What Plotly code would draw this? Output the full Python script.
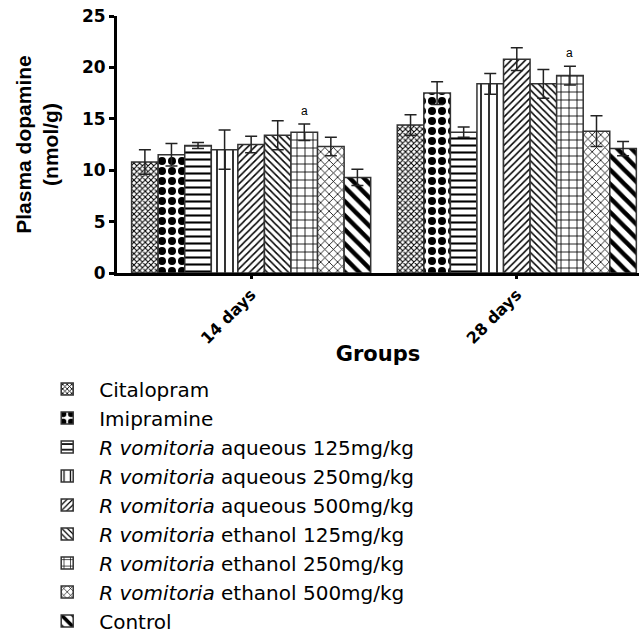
import plotly.graph_objects as go

categories = ["14 days", "28 days"]
series_names = [
    "Citalopram",
    "Imipramine",
    "<i>R vomitoria</i> aqueous 125mg/kg",
    "<i>R vomitoria</i> aqueous 250mg/kg",
    "<i>R vomitoria</i> aqueous 500mg/kg",
    "<i>R vomitoria</i> ethanol 125mg/kg",
    "<i>R vomitoria</i> ethanol 250mg/kg",
    "<i>R vomitoria</i> ethanol 500mg/kg",
    "Control",
]
means_14 = [10.8, 11.5, 12.4, 12.0, 12.5, 13.4, 13.7, 12.3, 9.3]
means_28 = [14.4, 17.5, 13.7, 18.4, 20.8, 18.4, 19.2, 13.8, 12.1]
err_14 = [1.2, 1.1, 0.3, 1.9, 0.8, 1.4, 0.8, 0.9, 0.8]
err_28 = [1.0, 1.1, 0.5, 1.0, 1.1, 1.4, 0.9, 1.5, 0.7]
sig_series = 6  # ethanol 250mg/kg marked "a"
sig_label = "a"

patterns = [
    dict(shape="x", size=4, solidity=0.45),
    dict(shape=".", size=10, solidity=0.5),
    dict(shape="-", size=7, solidity=0.3),
    dict(shape="|", size=8, solidity=0.2),
    dict(shape="/", size=5, solidity=0.3),
    dict(shape="\\", size=5, solidity=0.3),
    dict(shape="+", size=8, solidity=0.2),
    dict(shape="x", size=6, solidity=0.25),
    dict(shape="\\", size=10, solidity=0.45),
]

FONT = "Liberation Sans, Arial, sans-serif"
WIDE = "DejaVu Sans, Liberation Sans, sans-serif"
fig = go.Figure()
for i, name in enumerate(series_names):
    p = patterns[i]
    fig.add_trace(go.Bar(
        x=categories, y=[means_14[i], means_28[i]], name=name,
        legendgroup=str(i),
        marker=dict(color="white", line=dict(color="#333", width=1.5),
                    pattern=dict(shape=p["shape"], size=p["size"], solidity=p["solidity"],
                                 fgcolor="black", bgcolor="white", fillmode="replace")),
        error_y=dict(type="data", array=[err_14[i], err_28[i]], color="#222",
                     thickness=1.5, width=6),
    ))

n = len(series_names)
bargap = 0.1
bw = (1 - bargap) / n
for ci, (m, e) in enumerate([(means_14, err_14), (means_28, err_28)]):
    fig.add_annotation(x=ci + (sig_series - (n - 1) / 2) * bw, y=m[sig_series] + e[sig_series] + 1.3,
                       xref="x", yref="y", text=sig_label, showarrow=False,
                       font=dict(size=12, color="black", family=FONT))

fig.update_layout(
    width=639, height=637,
    margin=dict(l=117, r=0, t=16, b=364, autoexpand=False),
    paper_bgcolor="white", plot_bgcolor="white",
    barmode="group", bargap=bargap, bargroupgap=0,
    font=dict(family=FONT, color="black"),
    showlegend=True,
    legend=dict(x=-0.1567, y=-0.375, xanchor="left", yanchor="top",
                font=dict(size=20, family=WIDE),
                traceorder="normal", itemwidth=54),
    xaxis=dict(range=[-0.505, 1.46], showline=True, linecolor="black", linewidth=3,
               ticks="outside", ticklen=3, tickwidth=3, tickcolor="black",
               tickangle=-45, tickfont=dict(size=16, family=WIDE, weight="bold"),
               title=dict(text="<b>Groups</b>", font=dict(size=21, family=WIDE), standoff=0),
               showgrid=False, zeroline=False, automargin=False),
    yaxis=dict(range=[0, 25], tickvals=[0, 5, 10, 15, 20, 25], showline=True,
               linecolor="black", linewidth=3, ticks="outside", ticklen=5, tickwidth=3,
               tickcolor="black", tickfont=dict(size=17, family=WIDE, weight="bold"),
               title=dict(text="<b>Plasma dopamine<br>(nmol/g)</b>",
                          font=dict(size=21, family=FONT),
                          standoff=18),
               showgrid=False, zeroline=False, automargin=False),
)
fig.write_html("out.html", config={"displayModeBar": False},
               post_script="document.body.style.margin='0';document.body.style.overflow='hidden';")
